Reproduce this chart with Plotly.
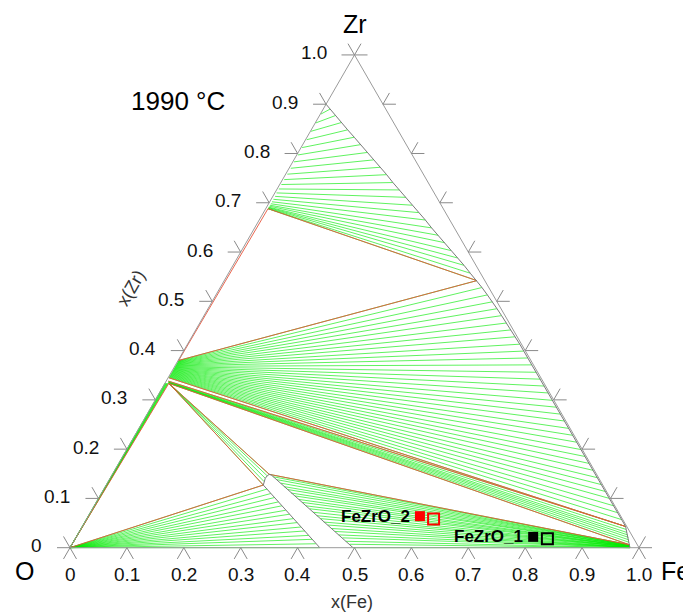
import numpy as np
import plotly.graph_objects as go

# ---------------- data (mole fractions: x(Fe), x(Zr); x(O) = 1 - Fe - Zr) ----------------
tick_vals = [0.0, 0.1, 0.2, 0.3, 0.4, 0.5, 0.6, 0.7, 0.8, 0.9, 1.0]
tick_labels = ["0", "0.1", "0.2", "0.3", "0.4", "0.5", "0.6", "0.7", "0.8", "0.9", "1.0"]

# alpha-Zr(O) + liquid (top fan)
top_azr_fe = [0.000, 0.001, 0.001, 0.001, 0.002, 0.002, 0.002, 0.002, 0.003, 0.003, 0.003, 0.003, 0.003,
              0.003, 0.004, 0.004, 0.004, 0.004, 0.004, 0.004, 0.004, 0.004, 0.004, 0.004, 0.004]
top_azr_zr = [0.898, 0.880, 0.862, 0.845, 0.828, 0.812, 0.797, 0.783, 0.770, 0.758, 0.747, 0.737, 0.728,
              0.720, 0.713, 0.707, 0.702, 0.698, 0.695, 0.693, 0.691, 0.690, 0.689, 0.688, 0.688]
top_liq_fe = [0.000, 0.012, 0.028, 0.046, 0.064, 0.083, 0.102, 0.121, 0.140, 0.159, 0.178, 0.197, 0.216,
              0.235, 0.254, 0.273, 0.292, 0.311, 0.330, 0.349, 0.368, 0.387, 0.406, 0.425, 0.444]
top_liq_zr = [0.900, 0.890, 0.877, 0.863, 0.848, 0.833, 0.818, 0.802, 0.787, 0.772, 0.757, 0.741, 0.726,
              0.711, 0.695, 0.680, 0.665, 0.649, 0.634, 0.619, 0.603, 0.588, 0.573, 0.557, 0.542]

# ZrO2-x + liquid (large fan)
big_ox_fe = [0.001] * 36
big_ox_zr = [0.380, 0.379, 0.378, 0.377, 0.376, 0.375, 0.374, 0.373, 0.372, 0.371, 0.370, 0.369,
             0.368, 0.367, 0.366, 0.365, 0.364, 0.363, 0.362, 0.361, 0.360, 0.359, 0.358, 0.357,
             0.356, 0.355, 0.354, 0.353, 0.352, 0.351, 0.350, 0.349, 0.348, 0.347, 0.346, 0.345]
big_liq_fe = [0.444, 0.460, 0.477, 0.493, 0.508, 0.523, 0.539, 0.554, 0.568, 0.584, 0.598, 0.612,
              0.626, 0.642, 0.656, 0.670, 0.684, 0.699, 0.713, 0.727, 0.741, 0.756, 0.770, 0.784,
              0.799, 0.813, 0.827, 0.841, 0.856, 0.870, 0.884, 0.898, 0.913, 0.927, 0.941, 0.955]
big_liq_zr = [0.542, 0.528, 0.513, 0.499, 0.485, 0.471, 0.456, 0.442, 0.428, 0.413, 0.399, 0.385,
              0.371, 0.356, 0.342, 0.328, 0.314, 0.299, 0.285, 0.271, 0.257, 0.242, 0.228, 0.214,
              0.199, 0.185, 0.171, 0.157, 0.142, 0.128, 0.114, 0.100, 0.085, 0.071, 0.057, 0.043]

# ZrO2 + Fe-rich liquid (thin fan)
f2_ox_fe = [0.004, 0.0045, 0.005, 0.0055, 0.006, 0.0065, 0.007, 0.007]
f2_ox_zr = [0.338, 0.337, 0.336, 0.3355, 0.335, 0.3345, 0.334, 0.3336]
f2_liq_fe = [0.955, 0.959, 0.963, 0.967, 0.971, 0.974, 0.977, 0.980]
f2_liq_zr = [0.043, 0.037, 0.031, 0.026, 0.021, 0.016, 0.011, 0.006]

# gas + ZrO2 (along O-Zr edge)
gz_ox_fe = [0.000, 0.001, 0.002, 0.003, 0.004, 0.005, 0.006]
gz_ox_zr = [0.3340, 0.3338, 0.3337, 0.3337, 0.3336, 0.3336, 0.3336]

# ZrO2 + oxide liquid (steep band)
sb_ox_fe = [0.007, 0.007, 0.007, 0.007, 0.007]
sb_ox_zr = [0.3336, 0.3336, 0.3336, 0.3336, 0.3336]
sb_liq_fe = [0.2761, 0.2738, 0.2728, 0.2736, 0.2758]
sb_liq_zr = [0.1272, 0.1343, 0.1408, 0.1459, 0.1489]

# gas + oxide liquid (fan from O corner)
ll_liq_fe = [0.276, 0.287, 0.298, 0.309, 0.320, 0.330, 0.341, 0.352, 0.363, 0.374, 0.385, 0.396,
             0.407, 0.417, 0.428, 0.439]
ll_liq_zr = [0.127, 0.119, 0.110, 0.102, 0.093, 0.085, 0.076, 0.068, 0.059, 0.051, 0.042, 0.034,
             0.025, 0.017, 0.008, 0.000]

# oxide liquid + metallic liquid (lower right fan)
lr_ox_fe = [0.2758, 0.285, 0.295, 0.305, 0.314, 0.324, 0.333, 0.343, 0.353, 0.362, 0.372, 0.382,
            0.391, 0.401, 0.411, 0.420, 0.430, 0.440, 0.449, 0.459, 0.469, 0.478, 0.488, 0.497]
lr_ox_zr = [0.1489, 0.144, 0.138, 0.131, 0.124, 0.118, 0.111, 0.105, 0.098, 0.092, 0.085, 0.079,
            0.072, 0.065, 0.059, 0.052, 0.046, 0.039, 0.033, 0.026, 0.020, 0.013, 0.007, 0.000]
lr_met_fe = [0.980, 0.980, 0.980, 0.981, 0.981, 0.981, 0.981, 0.982, 0.982, 0.982, 0.982, 0.982,
             0.983, 0.983, 0.983, 0.983, 0.983, 0.983, 0.984, 0.984, 0.984, 0.984, 0.984, 0.984]
lr_met_zr = [0.006, 0.006, 0.005, 0.005, 0.005, 0.004, 0.004, 0.004, 0.003, 0.003, 0.003, 0.003,
             0.002, 0.002, 0.002, 0.002, 0.001, 0.001, 0.001, 0.001, 0.001, 0.000, 0.000, 0.000]

# oxide-liquid single phase boundaries
oxl_left_fe = [0.2761, 0.439]
oxl_left_zr = [0.1272, 0.000]
oxl_cap_fe = [0.2761, 0.2738, 0.2728, 0.2736, 0.2758, 0.2800, 0.2852]
oxl_cap_zr = [0.1272, 0.1343, 0.1408, 0.1459, 0.1489, 0.1475, 0.1441]
oxl_right_fe = [0.2852, 0.4974]
oxl_right_zr = [0.1441, 0.000]

# three-phase triangle edges (fe1, zr1, fe2, zr2)
tri_fe1 = [0.004, 0.001, 0.004, 0.001, 0.004, 0.007, 0.000, 0.007, 0.000, 0.007, 0.2758]
tri_zr1 = [0.688, 0.380, 0.688, 0.345, 0.338, 0.3336, 0.000, 0.3336, 0.000, 0.3336, 0.1489]
tri_fe2 = [0.444, 0.444, 0.001, 0.955, 0.955, 0.980, 0.007, 0.2761, 0.2761, 0.2758, 0.980]
tri_zr2 = [0.542, 0.542, 0.380, 0.043, 0.043, 0.006, 0.3336, 0.1272, 0.1272, 0.1489, 0.006]

# experimental alloys
exp_names = ["FeZrO_2", "FeZrO_1"]
exp_colors = ["#ff0000", "#000000"]
exp_start_fe = [0.583, 0.803]
exp_start_zr = [0.064, 0.022]
exp_final_fe = [0.610, 0.830]
exp_final_zr = [0.058, 0.018]

# ---------------- helpers ----------------
S3 = np.sqrt(3) / 2
PX = 569.0   # pixels per unit triangle side
OFF = 8.0    # page body margin of the html page


def xy(fe, zr):
    fe = np.asarray(fe, float)
    zr = np.asarray(zr, float)
    return fe + zr / 2, zr * S3


def segs(fe1, zr1, fe2, zr2):
    x1, y1 = xy(fe1, zr1)
    x2, y2 = xy(fe2, zr2)
    xs, ys = [], []
    for a, b, c, d in zip(np.atleast_1d(x1), np.atleast_1d(y1), np.atleast_1d(x2), np.atleast_1d(y2)):
        xs += [a, c, None]
        ys += [b, d, None]
    return xs, ys


def px2data(px, py):
    return (px - 70) / PX, (547.7 - py) / PX


GREEN = "rgba(0,235,0,0.9)"
RED = "rgb(230,85,60)"
GRAY = "#7a7a7a"
fig = go.Figure()


def add_lines(xs, ys, color, width):
    fig.add_trace(go.Scatter(x=xs, y=ys, mode="lines", line=dict(color=color, width=width),
                             hoverinfo="skip", showlegend=False))


# tie lines
gx, gy = [], []
for a in [(top_azr_fe, top_azr_zr, top_liq_fe, top_liq_zr),
          (big_ox_fe, big_ox_zr, big_liq_fe, big_liq_zr),
          (f2_ox_fe, f2_ox_zr, f2_liq_fe, f2_liq_zr),
          ([0.0] * len(gz_ox_fe), [0.0] * len(gz_ox_fe), gz_ox_fe, gz_ox_zr),
          (sb_ox_fe, sb_ox_zr, sb_liq_fe, sb_liq_zr),
          ([0.0] * len(ll_liq_fe), [0.0] * len(ll_liq_fe), ll_liq_fe, ll_liq_zr),
          (lr_ox_fe, lr_ox_zr, lr_met_fe, lr_met_zr)]:
    xs, ys = segs(*a)
    gx += xs
    gy += ys
add_lines(gx, gy, GREEN, 0.7)

# three-phase triangles
rx, ry = segs(tri_fe1, tri_zr1, tri_fe2, tri_zr2)
add_lines(rx, ry, RED, 0.9)

# single phase boundaries (gray)
liq_fe = top_liq_fe + big_liq_fe[1:] + f2_liq_fe[1:] + [0.984]
liq_zr = top_liq_zr + big_liq_zr[1:] + f2_liq_zr[1:] + [0.0]
for fe, zr in [(liq_fe, liq_zr), (oxl_left_fe, oxl_left_zr), (oxl_cap_fe, oxl_cap_zr),
               (oxl_right_fe, oxl_right_zr)]:
    x, y = xy(fe, zr)
    add_lines(list(x), list(y), GRAY, 1)

# triangle frame
fx, fy = xy([0, 1, 0, 0], [0, 0, 1, 0])
add_lines(list(fx), list(fy), "#9a9a9a", 1)

# ternary tick marks (chevrons) on all edges
L = 13 / PX
tx, ty = [], []
c60, s60 = 0.5, S3
for v in tick_vals:
    px, py = xy(0, v)          # left edge
    tx += [px - L, px, px - c60 * L, None]
    ty += [py, py, py + s60 * L, None]
    px, py = xy(v, 0)          # bottom edge
    tx += [px - c60 * L, px, px + c60 * L, None]
    ty += [py - s60 * L, py, py - s60 * L, None]
    px, py = xy(1 - v, v)      # right edge
    tx += [px + L, px, px + c60 * L, None]
    ty += [py, py, py + s60 * L, None]
add_lines(tx, ty, "#8a8a8a", 1)

# experimental points
for name, col, f0, z0, f1, z1 in zip(exp_names, exp_colors, exp_start_fe, exp_start_zr,
                                      exp_final_fe, exp_final_zr):
    x0, y0 = xy(f0, z0)
    x1, y1 = xy(f1, z1)
    fig.add_trace(go.Scatter(x=[x0], y=[y0], mode="markers",
                             marker=dict(symbol="square", size=10, color=col, line=dict(width=0)),
                             hoverinfo="skip", showlegend=False))
    fig.add_trace(go.Scatter(x=[x1], y=[y1], mode="markers",
                             marker=dict(symbol="square-open", size=11, color=col, line=dict(width=2)),
                             hoverinfo="skip", showlegend=False))
    fig.add_annotation(x=float(x0), y=float(y0), text="<b>%s</b>" % name, showarrow=False,
                       xanchor="right", yanchor="middle", xshift=-8,
                       font=dict(family="Liberation Sans", size=17, color="#000"))

FONT = "Liberation Sans"
ann = []
for v, lab in zip(tick_vals, tick_labels):
    px, py = xy(0, v)
    ann.append(dict(x=float(px) - 26 / PX, y=float(py) + 2 / PX, text=lab, xanchor="right",
                    yanchor="middle", showarrow=False, font=dict(family=FONT, size=19, color="#111")))
    px, py = xy(v, 0)
    ann.append(dict(x=float(px), y=-27 / PX, text=lab, xanchor="center", yanchor="middle",
                    showarrow=False, font=dict(family=FONT, size=19, color="#111")))

for txt, cx, cy, size, ang in [("Zr", 354.5, 23.5, 25, 0), ("O", 24, 571, 25, 0), ("Fe", 675, 571, 25, 0),
                               ("1990 °C", 178, 101, 26, 0), ("x(Fe)", 352, 602, 18, 0),
                               ("x(Zr)", 131, 288, 18, -60)]:
    dx, dy = px2data(cx, cy)
    ann.append(dict(x=dx, y=dy, text=txt, textangle=ang,
                    font=dict(family=FONT, size=size, color="#000" if size > 20 else "#333")))

for a in ann:
    a.setdefault("showarrow", False)
    a.setdefault("xanchor", "center")
    a.setdefault("yanchor", "middle")
    fig.add_annotation(**a)

x_lo, y_hi = px2data(OFF, OFF)
x_hi, y_lo = px2data(691 + OFF, 615 + OFF)
fig.update_layout(
    width=691, height=615, margin=dict(l=0, r=0, t=0, b=0),
    paper_bgcolor="white", plot_bgcolor="white", showlegend=False,
    xaxis=dict(range=[x_lo, x_hi], visible=False, fixedrange=True),
    yaxis=dict(range=[y_lo, y_hi], visible=False, fixedrange=True),
)
fig.write_html("out.html")
